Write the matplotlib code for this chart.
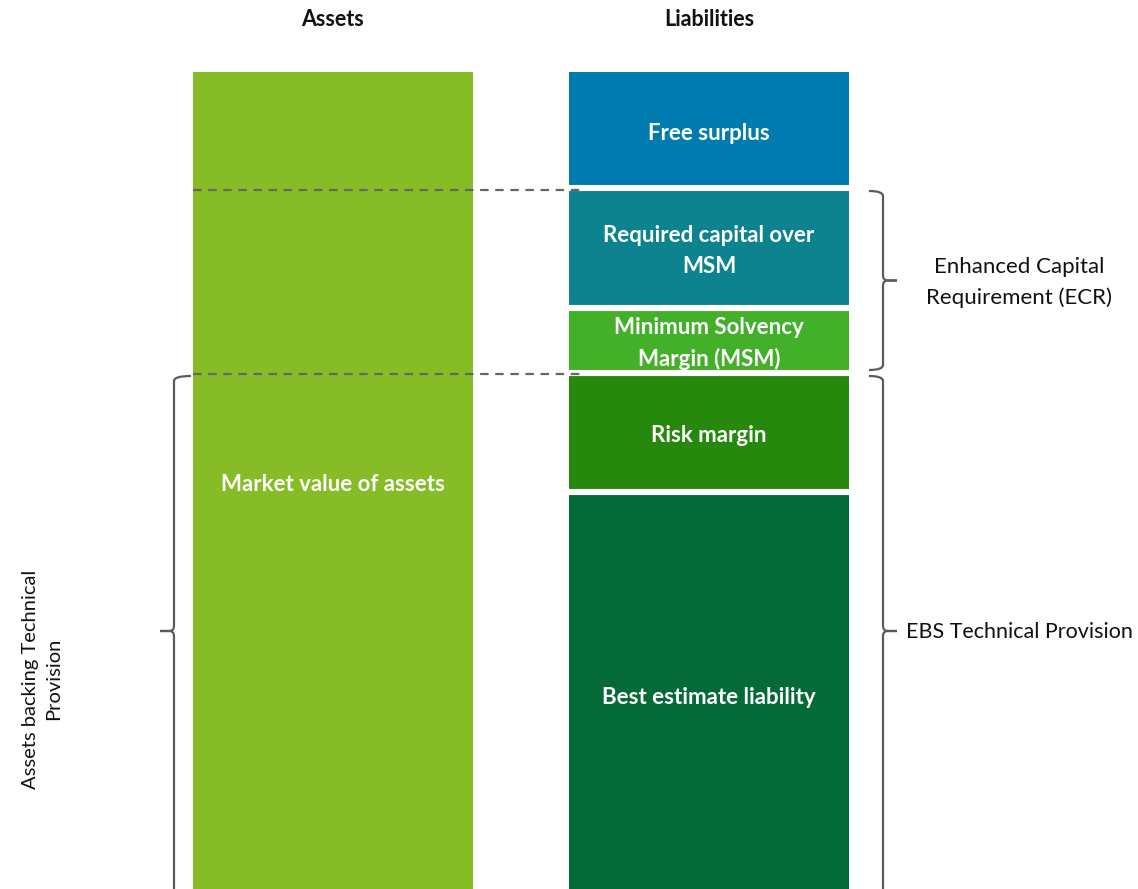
import matplotlib.pyplot as plt
from matplotlib.path import Path
from matplotlib.patches import PathPatch

plt.rcParams['font.family'] = ['Lato', 'DejaVu Sans']

# balance sheet blocks (bottom to top), arbitrary units
liab_labels = ['Best estimate liability', 'Risk margin', 'Minimum Solvency\nMargin (MSM)',
               'Required capital over\nMSM', 'Free surplus']
liab_values = [397, 119, 65, 120, 116]
liab_colors = ['#046A38', '#26890D', '#43B02A', '#0D8390', '#007CB0']
asset_label = 'Market value of assets'
asset_value = sum(liab_values)
asset_color = '#86BC25'

col_titles = ['Assets', 'Liabilities']
ecr_label = 'Enhanced Capital\nRequirement (ECR)'
tp_label = 'EBS Technical Provision'
atp_label = 'Assets backing Technical\nProvision'

fig = plt.figure(figsize=(11.38, 8.89), dpi=100)
ax = fig.add_axes([0, 0, 1, 1])
ax.set_xlim(0, 1138)
ax.set_ylim(0, 889)
ax.axis('off')

x_assets, x_liab, bar_w = 333, 709, 280

ax.bar(x_assets, asset_value, width=bar_w, color=asset_color, linewidth=0)
ax.text(x_assets, asset_value / 2 - 4, asset_label, color='white', fontsize=16, fontweight='bold',
        ha='center', va='center')

bottoms = []
b = 0
for lab, v, c in zip(liab_labels, liab_values, liab_colors):
    ax.bar(x_liab, v, bottom=b, width=bar_w, color=c, linewidth=0)
    # the bottom block runs off the page, so its label sits a bit lower
    dy = 7 if b == 0 else 3
    ax.text(x_liab, b + v / 2 - dy, lab, color='white', fontsize=16, fontweight='bold',
            ha='center', va='center', linespacing=1.6)
    bottoms.append(b)
    b += v

# white separators between liability blocks
ax.hlines(bottoms[1:], x_liab - bar_w / 2, x_liab + bar_w / 2, colors='white', linewidth=4.4)

tp_top = bottoms[2]          # top of risk margin
ecr_top = bottoms[4]         # top of required capital

for t, x in zip(col_titles, [x_assets, x_liab]):
    ax.text(x, 870, t, fontsize=15.5, fontweight='bold', ha='center', va='center', color='#111111')

# dashed guide lines
ax.hlines([ecr_top - 2, tp_top - 1], 193, 580, colors='#666666', linestyles=(0, (3.8, 3)), linewidth=1.6)


def brace(ax, x, y0, y1, hook, tip, ym=None, r=5, color='#5a5a62'):
    # hook / tip are signed horizontal lengths
    if ym is None:
        ym = (y0 + y1) / 2
    s = 1 if tip > 0 else -1
    verts = [(x + hook, y1), (x, y1), (x, y1 - r), (x, ym + r), (x, ym), (x + s * r, ym), (x + tip, ym)]
    codes = [Path.MOVETO, Path.CURVE3, Path.CURVE3, Path.LINETO, Path.CURVE3, Path.CURVE3, Path.LINETO]
    ax.add_patch(PathPatch(Path(verts, codes), fill=False, edgecolor=color, linewidth=1.6))
    verts = [(x + hook, y0), (x, y0), (x, y0 + r), (x, ym - r), (x, ym), (x + s * r, ym), (x + tip, ym)]
    ax.add_patch(PathPatch(Path(verts, codes), fill=False, edgecolor=color, linewidth=1.6))
    return ym


ym = brace(ax, 883, tp_top + 3, ecr_top - 3, -14, 14)
ax.text(1019, ym - 2, ecr_label, fontsize=16, ha='center', va='center', color='#111111', linespacing=1.6)

ym = brace(ax, 883, -20, tp_top - 3, -14, 14, ym=tp_top / 2)
ax.text(906, ym - 1, tp_label, fontsize=15.5, ha='left', va='center', color='#111111')

brace(ax, 174, -20, tp_top - 3, 17, -14, ym=tp_top / 2)
ax.text(42, 210, atp_label, fontsize=14.5, ha='center', va='center', rotation=90,
        color='#111111', linespacing=1.4, multialignment='center')

fig.savefig('out.png', dpi=100)
